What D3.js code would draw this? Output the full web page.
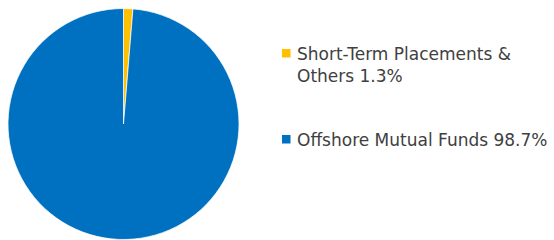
<!DOCTYPE html>
<html>
<head>
<meta charset="utf-8">
<script src="https://cdn.jsdelivr.net/npm/d3@7"></script>
<style>
  body { margin: 0; background: #fff; }
  svg text { font-family: "DejaVu Sans", sans-serif; fill: #404040; }
</style>
</head>
<body>
<script>
const w = 554;
const h = 240;

const labels = ["Short-Term Placements & Others", "Offshore Mutual Funds"];
const values = [1.3, 98.7];
const colors = ["#FFC000", "#0070C0"];

const svg = d3.select('body').append('svg').attr('width', w).attr('height', h);

// pie
const pie = d3.pie().sort(null).value(d => d);
const arc = d3.arc().innerRadius(0).outerRadius(115.5);

const g = svg.append('g').attr('transform', 'translate(123.5,124)');
g.selectAll('path')
  .data(pie(values))
  .enter()
  .append('path')
  .attr('d', arc)
  .attr('fill', (d, i) => colors[i])
  .attr('stroke', '#fff')
  .attr('stroke-width', 0.75);

// legend
const lines = [
  [labels[0].replace(' Others', ''), 'Others ' + values[0] + '%'],
  [labels[1] + ' ' + values[1] + '%']
];
const tops = [60, 146];

const legend = svg.append('g');
lines.forEach((ls, i) => {
  legend.append('rect')
    .attr('x', 282)
    .attr('y', tops[i] - 11)
    .attr('width', 8.5)
    .attr('height', 8.5)
    .attr('fill', colors[i]);
  ls.forEach((t, j) => {
    legend.append('text')
      .attr('x', 297)
      .attr('y', tops[i] + j * 22)
      .style('font-size', '17px')
      .text(t);
  });
});
</script>
</body>
</html>
